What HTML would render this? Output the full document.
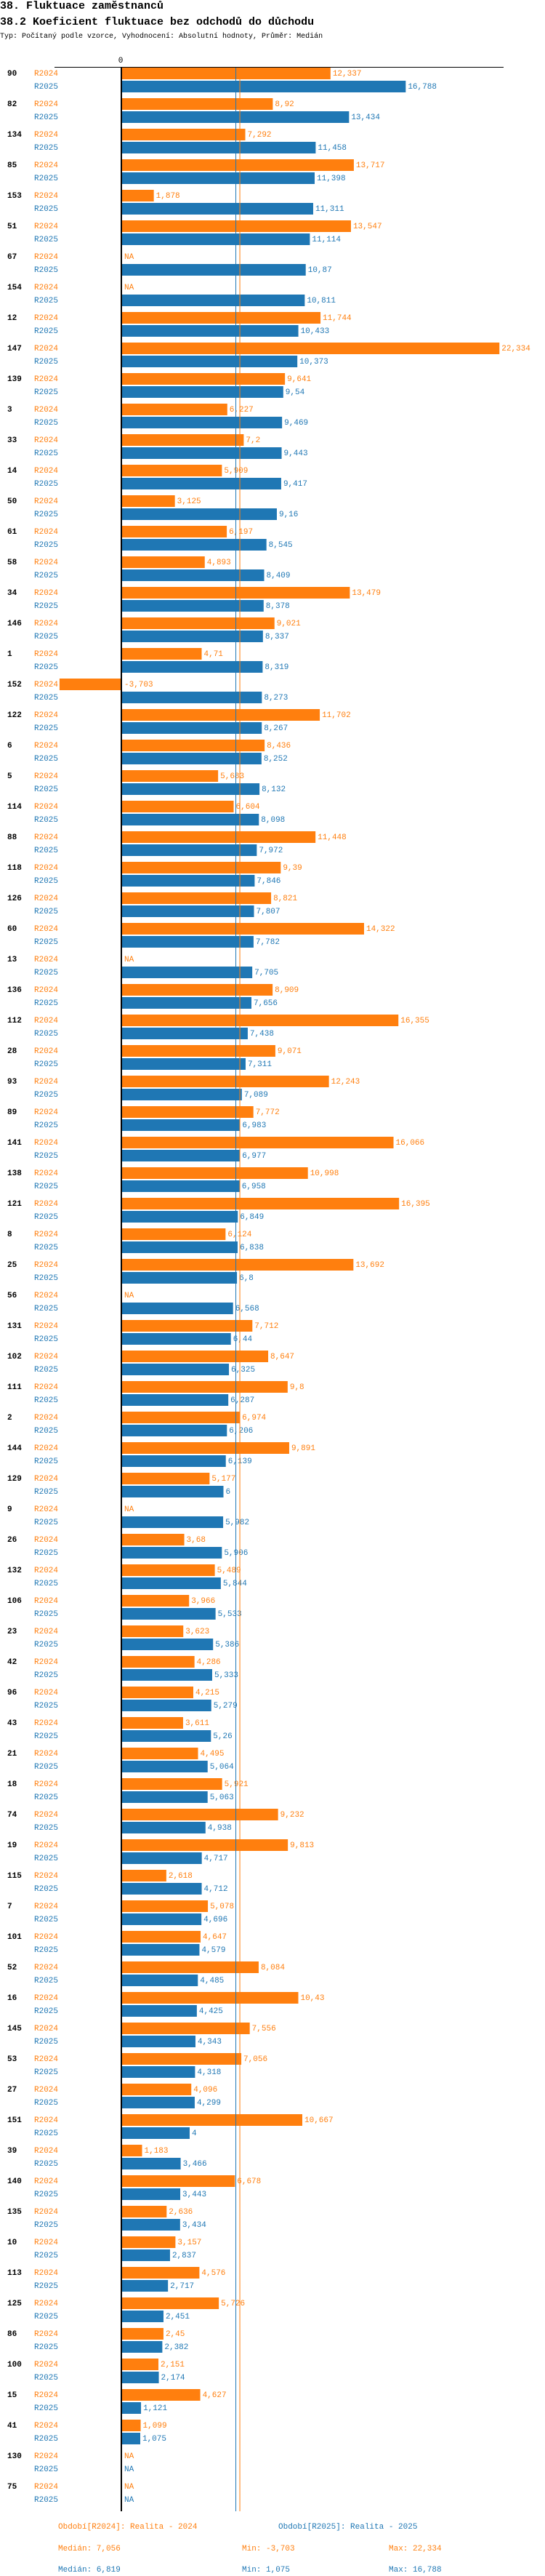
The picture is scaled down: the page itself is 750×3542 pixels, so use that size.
<!DOCTYPE html>
<html><head><meta charset="utf-8">
<style>
body{margin:0;background:#fff;width:750px;height:3542px;overflow:hidden;font-family:"Liberation Mono",monospace;}
.t1{position:absolute;left:0;font-weight:bold;font-size:15px;white-space:nowrap;}
.t3{position:absolute;left:0;font-size:10px;white-space:nowrap;}
svg text{font-family:"Liberation Mono",monospace;}
</style></head><body>
<div class="t1" style="top:0px">38. Fluktuace zaměstnanců</div>
<div class="t1" style="top:22px">38.2 Koeficient fluktuace bez odchodů do důchodu</div>
<div class="t3" style="top:45px">Typ: Počítaný podle vzorce, Vyhodnocení: Absolutní hodnoty, Průměr: Medián</div>
<svg id="chart" width="750" height="3542" style="position:absolute;left:0;top:0"></svg>
<script>
const categories=["90","82","134","85","153","51","67","154","12","147","139","3","33","14","50","61","58","34","146","1","152","122","6","5","114","88","118","126","60","13","136","112","28","93","89","141","138","121","8","25","56","131","102","111","2","144","129","9","26","132","106","23","42","96","43","21","18","74","19","115","7","101","52","16","145","53","27","151","39","140","135","10","113","125","86","100","15","41","130","75"];
const values2024=[12.337,8.92,7.292,13.717,1.878,13.547,null,null,11.744,22.334,9.641,6.227,7.2,5.909,3.125,6.197,4.893,13.479,9.021,4.71,-3.703,11.702,8.436,5.683,6.604,11.448,9.39,8.821,14.322,null,8.909,16.355,9.071,12.243,7.772,16.066,10.998,16.395,6.124,13.692,null,7.712,8.647,9.8,6.974,9.891,5.177,null,3.68,5.489,3.966,3.623,4.286,4.215,3.611,4.495,5.921,9.232,9.813,2.618,5.078,4.647,8.084,10.43,7.556,7.056,4.096,10.667,1.183,6.678,2.636,3.157,4.576,5.726,2.45,2.151,4.627,1.099,null,null];
const values2025=[16.788,13.434,11.458,11.398,11.311,11.114,10.87,10.811,10.433,10.373,9.54,9.469,9.443,9.417,9.16,8.545,8.409,8.378,8.337,8.319,8.273,8.267,8.252,8.132,8.098,7.972,7.846,7.807,7.782,7.705,7.656,7.438,7.311,7.089,6.983,6.977,6.958,6.849,6.838,6.8,6.568,6.44,6.325,6.287,6.206,6.139,6,5.982,5.906,5.844,5.533,5.386,5.333,5.279,5.26,5.064,5.063,4.938,4.717,4.712,4.696,4.579,4.485,4.425,4.343,4.318,4.299,4,3.466,3.443,3.434,2.837,2.717,2.451,2.382,2.174,1.121,1.075,null,null];
const medians=[7.056,6.819];
const mins=[-3.703,1.075];
const maxs=[22.334,16.788];
const seriesNames=["R2024","R2025"];

const O="#ff7f0e",B="#1f77b4";
const svg=document.getElementById('chart');
const NS="http://www.w3.org/2000/svg";
const x0=168,k=23.25;
function xs(v){return x0+v*k;}
function yTop(i,s){return 93+42*i+s*18;}
function fmt(v){return String(v).replace('.',',');}
function mk(tag,attrs,txt){const e=document.createElementNS(NS,tag);for(const a in attrs)e.setAttribute(a,attrs[a]);if(txt!==undefined)e.textContent=txt;svg.appendChild(e);return e;}
const endY=3453;
let e;
e=mk('line',{x1:75,y1:92.5,x2:693,y2:92.5,stroke:'#000','stroke-width':1});


e=mk('text',{x:166,y:86,'font-size':11,'text-anchor':'middle'},'0');


const cols=[O,B];
const vals=[values2024,values2025];
categories.forEach((c,i)=>{
  let t=mk('text',{x:10,y:yTop(i,0)+8,'font-size':11,'font-weight':'bold','dominant-baseline':'middle'},c);
  
  
  for(let s=0;s<2;s++){
    const v=vals[s][i],y=yTop(i,s);
    let l=mk('text',{x:47,y:y+8,'font-size':11,fill:cols[s],'dominant-baseline':'middle'},seriesNames[s]);
    
    
    if(v===null){
      let n=mk('text',{x:171,y:y+8,'font-size':11,fill:cols[s],'dominant-baseline':'middle'},'NA');
      
      
      continue;
    }
    const xa=Math.min(xs(0),xs(v)),w=Math.abs(xs(v)-xs(0));
    let r=mk('rect',{x:xa,y:y,width:w,height:16,fill:cols[s]});
    
    
    const lx=v<0?171:xs(v)+3;
    let vl=mk('text',{x:lx,y:y+8,'font-size':11,fill:cols[s],'dominant-baseline':'middle'},fmt(v));
    
    
  }
});
for(let s=0;s<2;s++){
  let m=mk('line',{x1:xs(medians[s])-2,y1:93,x2:xs(medians[s])-2,y2:endY,stroke:cols[s],'stroke-width':1});
  
  
}
e=mk('rect',{x:166,y:92,width:2,height:endY-92,fill:'#000'});


e=mk('text',{x:80,y:3474,'font-size':11,fill:O,'dominant-baseline':'middle'},'Období[R2024]: Realita - 2024');


e=mk('text',{x:383,y:3474,'font-size':11,fill:B,'dominant-baseline':'middle'},'Období[R2025]: Realita - 2025');


for(let s=0;s<2;s++){
  const yy=3504+s*29;
  let a=mk('text',{x:80,y:yy,'font-size':11,fill:cols[s],'dominant-baseline':'middle'},'Medián: '+fmt(medians[s]));
  
  
  let b=mk('text',{x:333,y:yy,'font-size':11,fill:cols[s],'dominant-baseline':'middle'},'Min: '+fmt(mins[s]));
  
  
  let d=mk('text',{x:535,y:yy,'font-size':11,fill:cols[s],'dominant-baseline':'middle'},'Max: '+fmt(maxs[s]));
  
  
}
</script>
</body></html>
